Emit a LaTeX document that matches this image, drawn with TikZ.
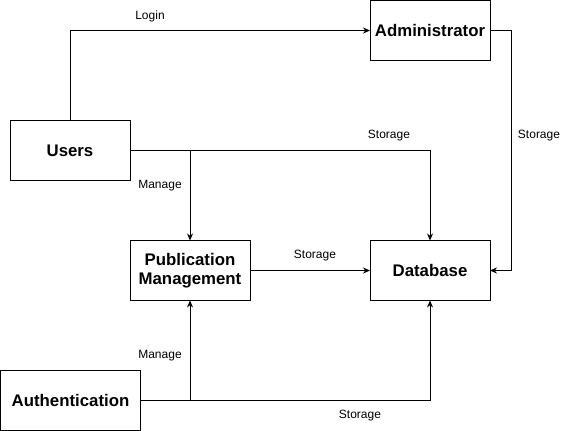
\documentclass[tikz,border=0pt]{standalone}
\usepackage{fontspec}
\setmainfont{Liberation Sans}
\usetikzlibrary{arrows.meta,positioning}

\tikzset{
 block/.style={draw,line width=1pt,minimum width=120pt,minimum height=60pt,inner sep=0pt,outer sep=0pt,align=center,font=\fontsize{16.8}{19.5}\selectfont\bfseries},
 lbl/.style={font=\fontsize{12}{14}\selectfont,inner sep=0pt},
 link/.style={->,line width=1pt}
}

\begin{document}
\begin{tikzpicture}[x=1pt,y=-1pt,>={Stealth[length=7pt,width=6pt]}]
\useasboundingbox (0,0) rectangle (571,431);
% boxes
\node[block] (admin) at (430,30.5) {Administrator};
\node[block] (users) at (70,150.5) {Users};
\node[block] (pub) at (190,270.5) {Publication\\Management};
\node[block] (db) at (430,270.5) {Database};
\node[block,minimum width=140pt] (auth) at (70.5,400.5) {Authentication};
% links
\draw[link] (users.north) |- (admin.west);
\draw[link] (admin.east) -- ++(21,0) |- (db.east);
\draw[link] (users.east) -| (db.north);
\draw[link] (users.east -| pub.north) -- (pub.north);
\draw[link] (pub) -- (db);
\draw[link] (auth.east) -| (db.south);
\draw[link] (auth.east -| pub.south) -- (pub.south);
% labels
\node[lbl] (login) at (150,16) {Login};
\node[lbl] (store1) at (389,136) {Storage};
\node[lbl] (store2) at (539,136) {Storage};
\node[lbl] (manage1) at (160,186) {Manage};
\node[lbl] (store3) at (315,256) {Storage};
\node[lbl] (manage2) at (160,356) {Manage};
\node[lbl] (store4) at (360,416) {Storage};
\end{tikzpicture}
\end{document}
